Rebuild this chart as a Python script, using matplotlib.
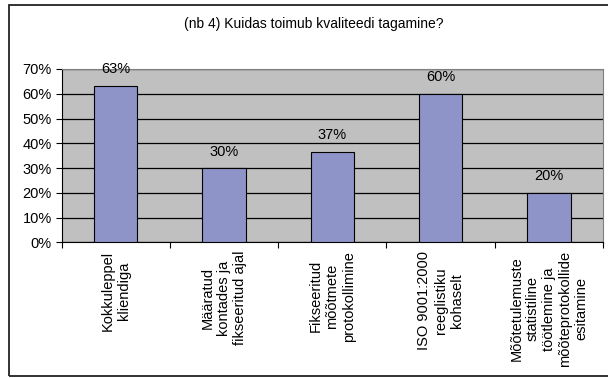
import numpy as np
import matplotlib
matplotlib.use('Agg')
import matplotlib.pyplot as plt
from matplotlib.patches import Rectangle
from matplotlib.ticker import FuncFormatter

plt.rcParams['font.family'] = ['Liberation Sans', 'DejaVu Sans']

# andmed
title = '(nb 4) Kuidas toimub kvaliteedi tagamine?'
categories = ['Kokkuleppel\nkliendiga',
              'Määratud\nkontades ja\nfikseeritud ajal',
              'Fikseeritud\nmõõtmete\nprotokollimine',
              'ISO 9001:2000\nreeglistiku\nkohaselt',
              'Mõõtetulemuste\nstatistiline\ntöötlemine ja\nmõõteprotokollide\nesitamine']
values = [0.633, 0.30, 0.367, 0.60, 0.20]
yticks = [0, 0.1, 0.2, 0.3, 0.4, 0.5, 0.6, 0.7]

fig = plt.figure(figsize=(6.08, 3.78), dpi=100)
# raam ümber diagrammi (parem serv jääb pildist välja)
fig.patches.append(Rectangle((0.0148, 0.005), 1.0, 0.982, transform=fig.transFigure,
                             fill=False, edgecolor='#222222', linewidth=1.3))

ax = fig.add_axes([0.1015, 0.3585, 0.8903, 0.459])
ax.set_facecolor('#C0C0C0')
x = np.arange(len(values))
ax.bar(x, values, width=0.4, color='#8E94C8', edgecolor='black', linewidth=0.8, zorder=3)

ax.set_xlim(-0.5, len(values) - 0.5)
ax.set_ylim(0, 0.7)
ax.set_yticks(yticks)
ax.yaxis.set_major_formatter(FuncFormatter(lambda v, p: '%d%%' % round(v * 100)))
ax.grid(axis='y', color='black', linewidth=0.9, zorder=1)
ax.set_axisbelow(True)

ax.set_xticks(np.arange(-0.5, len(values), 1.0))
ax.set_xticklabels([])
ax.tick_params(axis='both', direction='out', length=4, width=0.8, color='black')
ax.tick_params(axis='y', labelsize=10.5, pad=3)

for side in ['top', 'right']:
    ax.spines[side].set_color('#808080')
for side in ['left', 'bottom']:
    ax.spines[side].set_color('black')

# väärtused tulpade kohal
for i, v in enumerate(values):
    ax.annotate('%d%%' % round(v * 100), xy=(i, v), xytext=(0, 9), textcoords='offset points',
                ha='center', va='baseline', fontsize=10.5)

# kategooriate nimed
for i, c in enumerate(categories):
    ax.annotate(c, xy=(i, 0), xycoords=('data', 'axes fraction'), xytext=(0, -6),
                textcoords='offset points', ha='center', va='top', rotation=90,
                multialignment='center', fontsize=10.5)

fig.text(0.5156, 0.926, title, ha='center', va='baseline', fontsize=10)

plt.savefig('out.png', dpi=100)
